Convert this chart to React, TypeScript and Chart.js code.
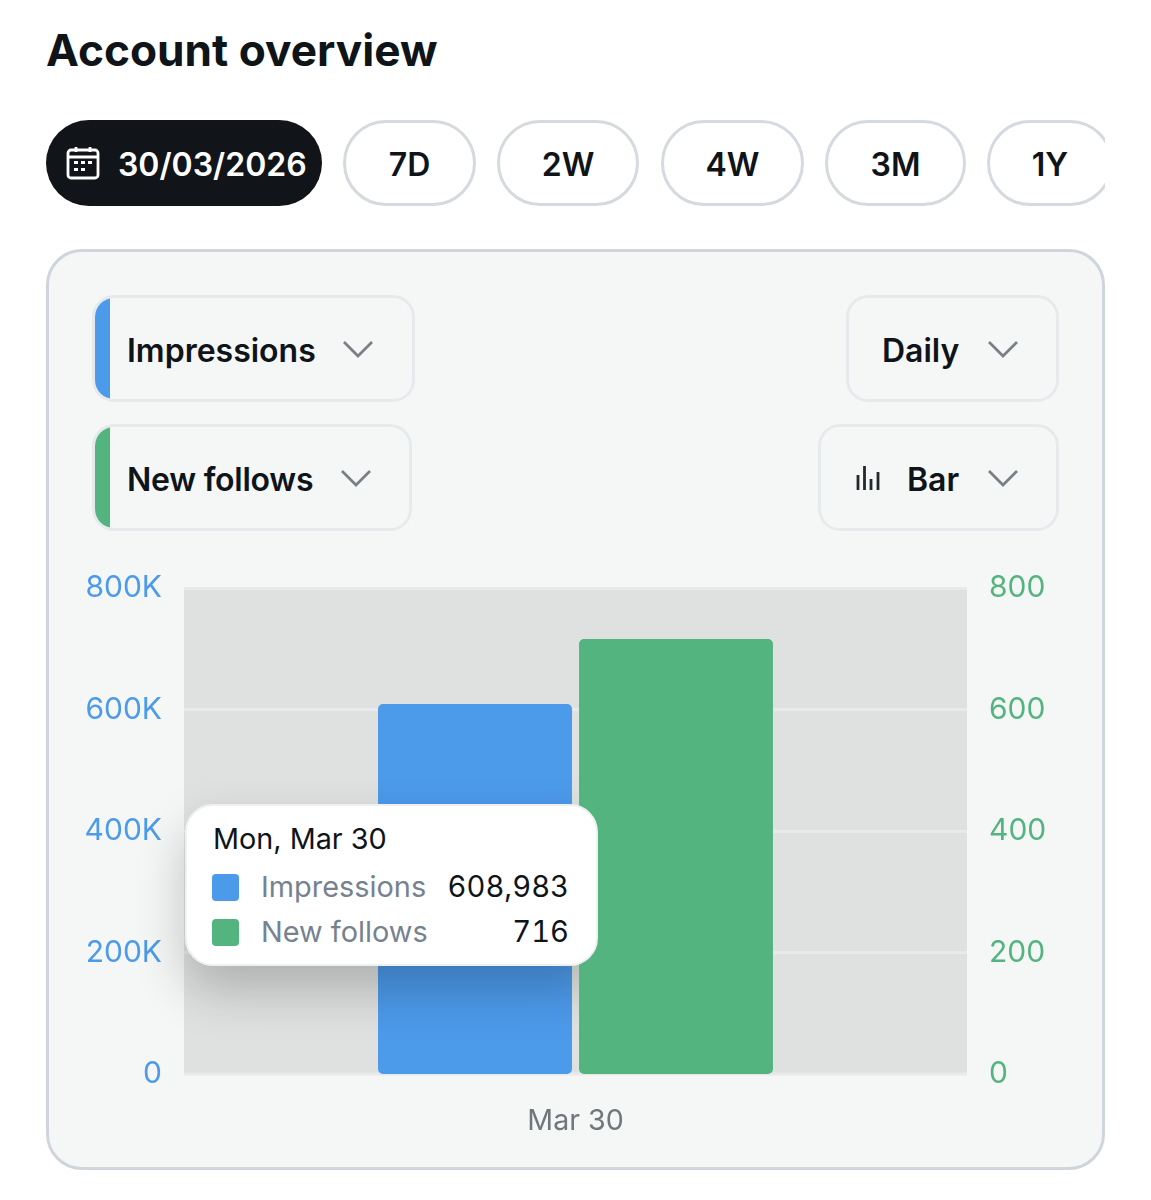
import { useEffect, useRef, type CSSProperties, type ReactNode } from "react";
import { Chart, registerables, type Plugin } from "chart.js";

Chart.register(...registerables);

const categories = ["Mar 30"];
const tooltipTitle = "Mon, Mar 30";
const impressions = [608983];
const newFollows = [716];
const impressionsMax = 800000;
const impressionsStep = 200000;
const followsMax = 800;
const followsStep = 200;

const rangeTabs = [
  { label: "7D", left: 343, width: 133 },
  { label: "2W", left: 497, width: 142 },
  { label: "4W", left: 661, width: 143 },
  { label: "3M", left: 825, width: 141 },
  { label: "1Y", left: 987, width: 126 },
];

const BLUE = "#4c9aea";
const GREEN = "#54b47f";
const INK = "#0f1419";
const GRID = "#e7e9ec";
const FONT = "Inter, 'Noto Sans', sans-serif";

// grey panel behind the bars, plus the baseline (a grid line at 0 would shorten the bars)
const plotBackground: Plugin<"bar"> = {
  id: "plotBackground",
  beforeDraw(chart) {
    const { ctx, chartArea } = chart;
    ctx.save();
    ctx.fillStyle = "#dfe1e1";
    ctx.fillRect(chartArea.left, chartArea.top, chartArea.width, chartArea.height);
    ctx.fillStyle = GRID;
    ctx.fillRect(chartArea.left, chartArea.bottom - 1.5, chartArea.width, 3);
    ctx.restore();
  },
};

function Box({ style, children }: { style: CSSProperties; children?: ReactNode }) {
  return <div style={{ position: "absolute", boxSizing: "border-box", ...style }}>{children}</div>;
}

function Chevron({ left, top }: { left: number; top: number }) {
  return (
    <svg
      width={32}
      height={20}
      viewBox="0 0 32 20"
      style={{ position: "absolute", left, top }}
    >
      <path d="M2 3 L16 17 L30 3" fill="none" stroke="#7a7f85" strokeWidth={2.8} />
    </svg>
  );
}

function SelectBox({
  left,
  top,
  width,
  height,
  strip,
  label,
  labelLeft,
  labelSpacing,
  chevronLeft,
  children,
}: {
  left: number;
  top: number;
  width: number;
  height: number;
  strip?: string;
  label: string;
  labelLeft: number;
  labelSpacing?: number;
  chevronLeft: number;
  children?: ReactNode;
}) {
  return (
    <Box
      style={{
        left,
        top,
        width,
        height,
        border: "3px solid #e7eaec",
        borderRadius: 22,
        overflow: "hidden",
      }}
    >
      {strip && <Box style={{ left: -2, top: -2, width: 17, height: height, background: strip }} />}
      {children}
      <Box
        style={{
          left: labelLeft - left - 3,
          top: 2,
          height: height - 6,
          lineHeight: `${height - 6}px`,
          fontSize: 32,
          fontWeight: 600,
          letterSpacing: labelSpacing,
          color: INK,
          whiteSpace: "nowrap",
        }}
      >
        {label}
      </Box>
      <Chevron left={chevronLeft - left - 3} top={(height - 6) / 2 - 10} />
    </Box>
  );
}

function CalendarIcon() {
  return (
    <svg width={34} height={34} viewBox="0 0 34 34" style={{ position: "absolute", left: 20, top: 26 }}>
      <rect x="2" y="4" width="30" height="28" rx="3" fill="none" stroke="#fff" strokeWidth="2.8" />
      <path d="M2 11 H32 M10 1 V6 M24 1 V6" stroke="#fff" strokeWidth="2.8" fill="none" />
      <path
        d="M8 15h4v3H8z M15 15h4v3h-4z M22 15h4v3h-4z M8 22h4v3H8z M15 22h4v3h-4z"
        fill="#fff"
      />
    </svg>
  );
}

function BarIcon() {
  return (
    <svg width={24} height={26} viewBox="0 0 24 26" style={{ position: "absolute", left: 35, top: 38 }}>
      <path d="M2 10V25 M8.5 1V25 M15 14V25 M22 7V25" stroke="#23282c" strokeWidth="2.8" fill="none" />
    </svg>
  );
}

function TooltipRow({
  top,
  color,
  label,
  value,
}: {
  top: number;
  color: string;
  label: string;
  value: string;
}) {
  return (
    <>
      <Box style={{ left: 25, top: top + 5, width: 27, height: 27, borderRadius: 4, background: color }} />
      <Box style={{ left: 74, top, lineHeight: "36px", fontSize: 28.9, color: "#76828f", whiteSpace: "nowrap" }}>{label}</Box>
      <Box
        style={{
          right: 27,
          top,
          lineHeight: "36px",
          fontSize: 29.2,
          color: "#0f1419",
          fontVariantNumeric: "tabular-nums",
        }}
      >
        {value}
      </Box>
    </>
  );
}

export default function App() {
  const canvasRef = useRef<HTMLCanvasElement>(null);

  useEffect(() => {
    if (!canvasRef.current) return;

    const chart = new Chart(canvasRef.current, {
      type: "bar",
      data: {
        labels: categories,
        datasets: [
          {
            label: "Impressions",
            data: impressions,
            yAxisID: "y",
            backgroundColor: BLUE,
            borderRadius: 5,
            borderSkipped: false,
          },
          {
            label: "New follows",
            data: newFollows,
            yAxisID: "y1",
            backgroundColor: GREEN,
            borderRadius: 5,
            borderSkipped: false,
          },
        ],
      },
      options: {
        responsive: false,
        animation: false,
        datasets: { bar: { categoryPercentage: 0.5134, barPercentage: 0.965 } },
        plugins: { legend: { display: false }, tooltip: { enabled: false } },
        scales: {
          x: {
            grid: { display: false },
            border: { display: false },
            ticks: {
              color: "#71767b",
              font: { family: FONT, size: 28.6 },
              padding: 22,
            },
            afterFit: (scale) => {
              scale.height = 86;
            },
          },
          y: {
            position: "left",
            min: 0,
            max: impressionsMax,
            grid: {
              color: GRID,
              lineWidth: (ctx) => (ctx.tick?.value === 0 ? 0 : 3),
              drawTicks: false,
            },
            border: { display: false },
            ticks: {
              stepSize: impressionsStep,
              color: BLUE,
              padding: 22,
              font: { family: FONT, size: 30 },
              callback: (value) => (Number(value) === 0 ? "0" : `${Number(value) / 1000}K`),
            },
            afterFit: (scale) => {
              scale.width = 137;
            },
          },
          y1: {
            position: "right",
            min: 0,
            max: followsMax,
            grid: { display: false, drawTicks: false },
            border: { display: false },
            ticks: {
              stepSize: followsStep,
              color: GREEN,
              padding: 22,
              font: { family: FONT, size: 30 },
            },
            afterFit: (scale) => {
              scale.width = 136;
            },
          },
        },
      },
      plugins: [plotBackground],
    });

    return () => chart.destroy();
  }, []);

  return (
    <div
      style={{
        position: "absolute",
        left: 0,
        top: 0,
        width: 1151,
        height: 1200,
        background: "#fff",
        fontFamily: FONT,
        overflow: "hidden",
      }}
    >
      <Box
        style={{
          left: 46,
          top: 22,
          fontSize: 44.2,
          lineHeight: "56px",
          fontWeight: 700,
          color: INK,
          whiteSpace: "nowrap",
        }}
      >
        Account overview
      </Box>

      {/* date and range pills, the last one runs off the row */}
      <Box style={{ left: 0, top: 120, width: 1105, height: 86, overflow: "hidden" }}>
        <Box
          style={{
            left: 46,
            top: 0,
            width: 276,
            height: 86,
            borderRadius: 43,
            background: "#111418",
          }}
        >
          <CalendarIcon />
          <Box
            style={{
              left: 72,
              top: 2,
              lineHeight: "86px",
              fontSize: 32,
              fontWeight: 600,
              color: "#fff",
            }}
          >
            30/03/2026
          </Box>
        </Box>
        {rangeTabs.map((tab) => (
          <Box
            key={tab.label}
            style={{
              left: tab.left,
              top: 0,
              width: tab.width,
              height: 86,
              borderRadius: 43,
              border: "3px solid #d5dade",
              textAlign: "center",
              lineHeight: "84px",
              fontSize: 32,
              fontWeight: 600,
              color: INK,
            }}
          >
            {tab.label}
          </Box>
        ))}
      </Box>

      <Box
        style={{
          left: 46,
          top: 249,
          width: 1059,
          height: 921,
          borderRadius: 36,
          border: "3px solid #cfd6db",
          background: "#f5f7f7",
        }}
      />

      <SelectBox left={92} top={295} width={323} height={107} strip={BLUE} label="Impressions" labelLeft={127} chevronLeft={342} />
      <SelectBox left={92} top={424} width={320} height={107} strip={GREEN} label="New follows" labelLeft={127} labelSpacing={-0.25} chevronLeft={340} />
      <SelectBox left={846} top={295} width={213} height={107} label="Daily" labelLeft={882} chevronLeft={987} />
      <SelectBox left={818} top={424} width={241} height={107} label="Bar" labelLeft={907} chevronLeft={987}>
        <BarIcon />
      </SelectBox>

      <canvas
        ref={canvasRef}
        width={1056}
        height={612}
        style={{ position: "absolute", left: 47, top: 548, width: 1056, height: 612 }}
      />

      {/* the tooltip shadow stops at the green bar in the reference */}
      <Box
        style={{
          left: 185,
          top: 804,
          width: 413,
          height: 162,
          borderRadius: 28,
          boxShadow: "0 24px 50px rgba(0,0,0,0.22)",
          clipPath: "inset(-120px 19px -120px -120px)",
        }}
      />
      <Box
        style={{
          left: 185,
          top: 804,
          width: 413,
          height: 162,
          borderRadius: 28,
          background: "#fff",
          border: "2px solid #eef0f1",
        }}
      >
        <Box style={{ left: 26, top: 15, lineHeight: "36px", fontSize: 28.8, color: "#0f1419", whiteSpace: "nowrap" }}>
          {tooltipTitle}
        </Box>
        <TooltipRow top={63} color={BLUE} label="Impressions" value={impressions[0].toLocaleString("en-US")} />
        <TooltipRow top={108} color={GREEN} label="New follows" value={newFollows[0].toLocaleString("en-US")} />
      </Box>
    </div>
  );
}
